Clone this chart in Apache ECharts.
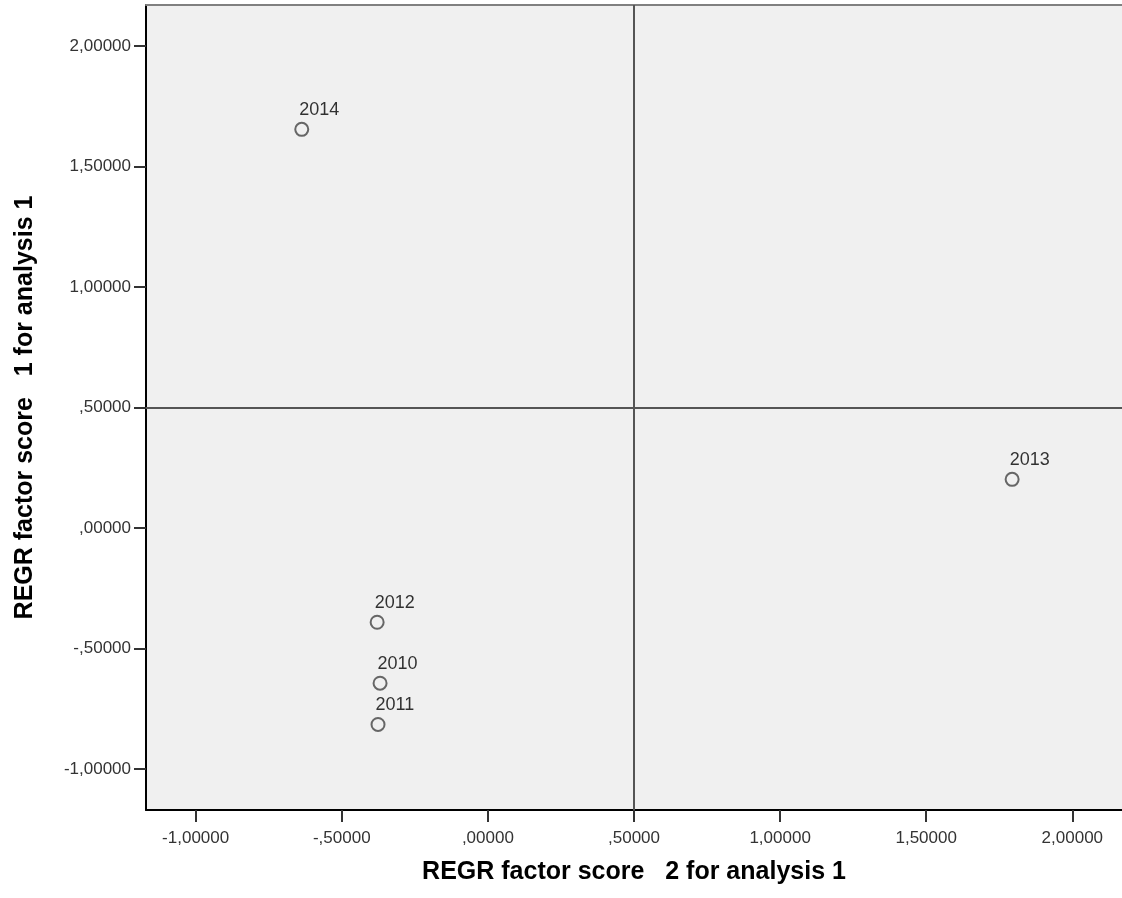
<!DOCTYPE html>
<html>
<head>
<meta charset="utf-8">
<title>REGR factor scores</title>
<script src="https://cdn.jsdelivr.net/npm/echarts@6/dist/echarts.min.js"></script>
<style>
  html, body { margin: 0; padding: 0; background: #fff; }
  #chart { width: 1122px; height: 898px; }
</style>
</head>
<body>
<div id="chart"></div>
<script>
// years shown next to each point
const years = ['2014', '2013', '2012', '2010', '2011'];
// factor score 2 (x) and factor score 1 (y)
const score2 = [-0.637, 1.794, -0.379, -0.369, -0.376];
const score1 = [1.654, 0.202, -0.391, -0.644, -0.815];

// tick values on both axes
const xTicks = [-1, -0.5, 0, 0.5, 1, 1.5, 2];
const yTicks = [-1, -0.5, 0, 0.5, 1, 1.5, 2];

// reference lines crossing at (0.5, 0.5)
const refX = 0.5;
const refY = 0.5;

const FONT = 'Liberation Sans, Arial, sans-serif';

// SPSS style: comma decimal, no leading zero
function fmt(v) {
  return v.toFixed(5).replace('.', ',').replace(/^(-?)0,/, '$1,');
}

const points = years.map((y, i) => ({ name: y, value: [score2[i], score1[i]] }));

const chart = echarts.init(document.getElementById('chart'));

const option = {
  backgroundColor: '#ffffff',
  animation: false,
  grid: {
    left: 146, top: 5, right: -3, bottom: 88,
    show: true,
    backgroundColor: '#f0f0f0',
    borderWidth: 0
  },
  xAxis: [
    {
      type: 'value',
      min: -1.17, max: 2.17,
      name: 'REGR factor score   2 for analysis 1',
      nameLocation: 'middle',
      nameGap: 50,
      nameTextStyle: { fontFamily: FONT, fontSize: 25, fontWeight: 'bold', color: '#000' },
      axisLine: { show: true, onZero: false, lineStyle: { color: '#000', width: 2 } },
      axisTick: { show: true, length: 12, customValues: xTicks, lineStyle: { color: '#333', width: 2 } },
      axisLabel: {
        customValues: xTicks, formatter: fmt, margin: 20,
        fontFamily: FONT, fontSize: 17, color: '#333'
      },
      splitLine: { show: false }
    },
    {
      // top frame line only
      type: 'value',
      position: 'top',
      min: -1.17, max: 2.17,
      axisLine: { show: true, onZero: false, lineStyle: { color: '#808080', width: 2 } },
      axisTick: { show: false },
      axisLabel: { show: false },
      splitLine: { show: false }
    }
  ],
  yAxis: {
    type: 'value',
    min: -1.17, max: 2.17,
    name: 'REGR factor score   1 for analysis 1',
    nameLocation: 'middle',
    nameGap: 108,
    nameTextStyle: { fontFamily: FONT, fontSize: 25, fontWeight: 'bold', color: '#000' },
    axisLine: { show: true, onZero: false, lineStyle: { color: '#000', width: 2 } },
    axisTick: { show: true, length: 12, customValues: yTicks, lineStyle: { color: '#333', width: 2 } },
    axisLabel: {
      customValues: yTicks, formatter: fmt, margin: 15,
      fontFamily: FONT, fontSize: 17, color: '#333'
    },
    splitLine: { show: false }
  },
  series: [
    {
      type: 'scatter',
      data: points,
      symbol: 'circle',
      symbolSize: 13,
      itemStyle: { color: 'transparent', borderColor: '#444', borderWidth: 2 },
      label: {
        show: true,
        formatter: p => p.name,
        position: [5, -3],
        align: 'left',
        verticalAlign: 'bottom',
        fontFamily: FONT,
        fontSize: 18,
        color: '#000'
      },
      markLine: {
        silent: true,
        symbol: 'none',
        label: { show: false },
        lineStyle: { color: '#555', width: 2, type: 'solid' },
        data: [{ xAxis: refX }, { yAxis: refY }]
      }
    }
  ]
};

chart.setOption(option);
</script>
</body>
</html>
